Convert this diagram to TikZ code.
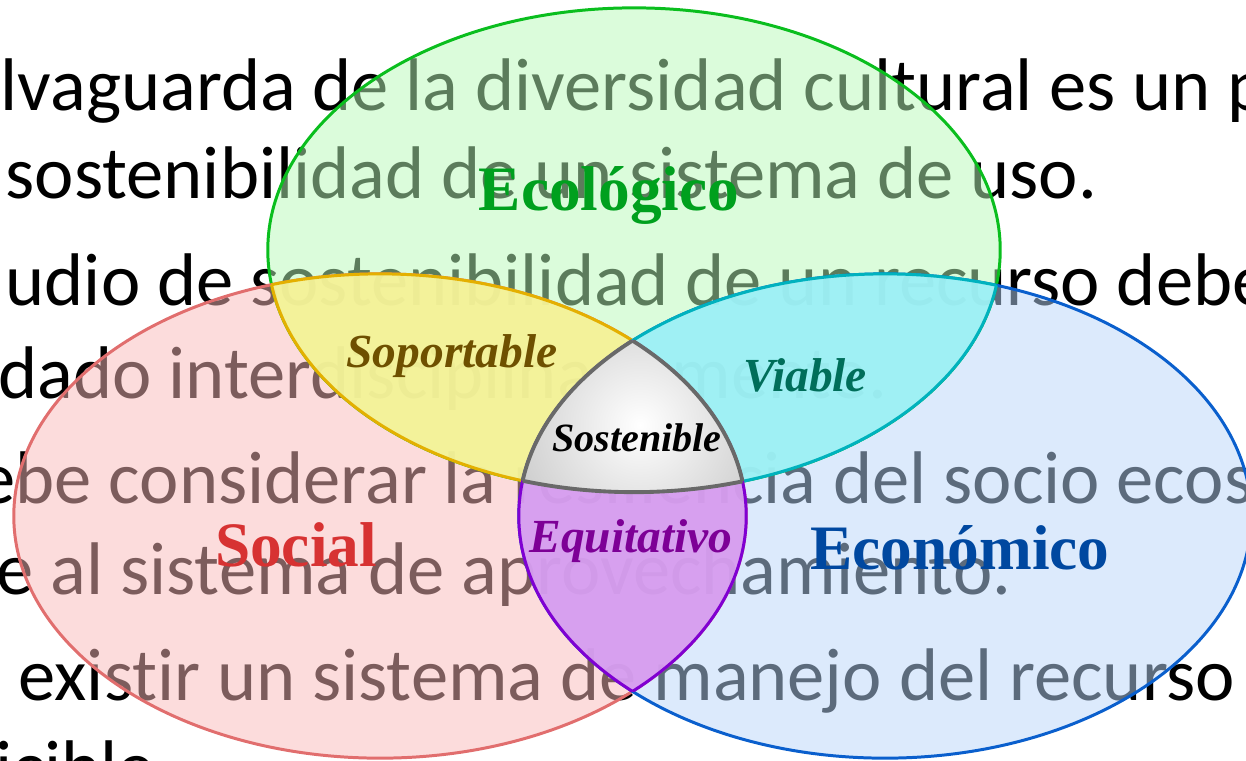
\documentclass[tikz,border=0pt]{standalone}
\usepackage{fontspec}
\usepackage{xcolor}
\setmainfont{Liberation Serif}
\newfontfamily\slidefont[Ligatures=NoCommon]{Carlito}

\definecolor{ecofill}{RGB}{184,249,184}
\definecolor{socfill}{RGB}{249,185,185}
\definecolor{econfill}{RGB}{185,214,249}
\definecolor{ecoline}{RGB}{10,190,30}
\definecolor{socline}{RGB}{225,110,110}
\definecolor{econline}{RGB}{10,95,205}
\definecolor{yelfill}{RGB}{245,245,150}
\definecolor{yelline}{RGB}{228,176,0}
\definecolor{cyfill}{RGB}{155,242,246}
\definecolor{cyline}{RGB}{0,178,190}
\definecolor{pufill}{RGB}{215,155,240}
\definecolor{puline}{RGB}{128,0,210}
\definecolor{grayline}{RGB}{105,105,105}

\newcommand{\ecoell}{(634,250) ellipse [x radius=3.66cm, y radius=2.42cm]}
\newcommand{\socell}{(380,516) ellipse [x radius=3.66cm, y radius=2.42cm]}
\newcommand{\econell}{(885,516) ellipse [x radius=3.66cm, y radius=2.42cm]}

\tikzset{
  slideline/.style={anchor=base west, inner sep=0pt, font=\slidefont\fontsize{21.2}{25}\selectfont},
  setlabel/.style={inner sep=0pt, font=\bfseries\fontsize{18}{20}\selectfont},
  lenslabel/.style={inner sep=0pt, font=\bfseries\itshape\fontsize{13.5}{15}\selectfont},
  rim/.style={line width=0.85pt}
}

\begin{document}
\begin{tikzpicture}[x=0.01cm, y=-0.01cm]
  \useasboundingbox (0,0) rectangle (1246,760);
  \clip (0,0) rectangle (1246,760);
  % slide text behind the diagram
  \node[slideline] (t1) at (0,110) {lvaguarda de la diversidad cultural es un p};
  \node[slideline] (t2) at (5,198) {sostenibilidad de un sistema de uso.};
  \node[slideline] (t3) at (5,305) {udio de sostenibilidad de un recurso debe};
  \node[slideline] (t4) at (-2,398) {dado interdisciplinariamente.};
  \node[slideline] (t5) at (-22,503) {ebe considerar la resiliencia del socio ecos};
  \node[slideline] (t6) at (-4,594) {e al sistema de aprovechamiento.};
  \node[slideline] (t7) at (18,700) {existir un sistema de manejo del recurso};
  \node[slideline] (t8) at (-5,792) {icible};
  % the three sets
  \fill[ecofill, opacity=0.5] \ecoell;
  \fill[socfill, opacity=0.5] \socell;
  \fill[econfill, opacity=0.5] \econell;
  \draw[rim, ecoline] \ecoell;
  \draw[rim, socline] \socell;
  \draw[rim, econline] \econell;
  % pairwise overlaps
  \begin{scope}
    \clip \socell;
    \fill[yelfill, opacity=0.9] \ecoell;
    \draw[rim, yelline] \ecoell;
  \end{scope}
  \begin{scope}
    \clip \ecoell;
    \draw[rim, yelline] \socell;
  \end{scope}
  \begin{scope}
    \clip \econell;
    \fill[cyfill, opacity=0.9] \ecoell;
    \draw[rim, cyline] \ecoell;
  \end{scope}
  \begin{scope}
    \clip \ecoell;
    \draw[rim, cyline] \econell;
  \end{scope}
  \begin{scope}
    \clip \socell;
    \fill[pufill, opacity=0.9] \econell;
    \draw[rim, puline] \econell;
  \end{scope}
  \begin{scope}
    \clip \econell;
    \draw[rim, puline] \socell;
  \end{scope}
  % middle part
  \begin{scope}
    \clip \ecoell;
    \clip \socell;
    \clip \econell;
    \shade[inner color=white, outer color=black!37] (640,425) circle [radius=2.5cm];
  \end{scope}
  \begin{scope}
    \clip \socell;
    \clip \econell;
    \draw[rim, grayline, line width=1.1pt] \ecoell;
  \end{scope}
  \begin{scope}
    \clip \ecoell;
    \clip \econell;
    \draw[rim, grayline, line width=1.1pt] \socell;
  \end{scope}
  \begin{scope}
    \clip \ecoell;
    \clip \socell;
    \draw[rim, grayline, line width=1.1pt] \econell;
  \end{scope}
  % labels
  \node[setlabel, text={rgb,255:red,0;green,160;blue,30}] (eco) at (609,195) {Ecológico};
  \node[setlabel, text={rgb,255:red,215;green,50;blue,50}] (soc) at (296,545) {Social};
  \node[setlabel, text={rgb,255:red,0;green,72;blue,160}] (econ) at (960,548) {Económico};
  \node[lenslabel, text={rgb,255:red,110;green,80;blue,0}] (sop) at (452,356) {Soportable};
  \node[lenslabel, text={rgb,255:red,0;green,110;blue,90}] (via) at (805,375) {Viable};
  \node[lenslabel, text={rgb,255:red,125;green,0;blue,150}] (equ) at (631,541) {Equitativo};
  \node[lenslabel, font=\bfseries\itshape\fontsize{11.4}{13}\selectfont] (sos) at (637,438) {Sostenible};
\end{tikzpicture}
\end{document}
